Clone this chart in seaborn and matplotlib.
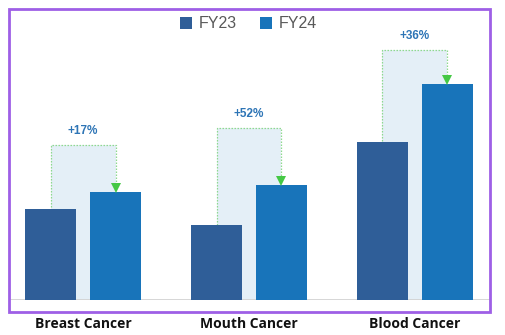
import matplotlib
matplotlib.use("Agg")
import matplotlib.pyplot as plt
import seaborn as sns
import pandas as pd
from matplotlib.patches import Rectangle, Patch

categories = ["Breast Cancer", "Mouth Cancer", "Blood Cancer"]
series = ["FY23", "FY24"]
fy23 = [91, 75, 158]
fy24 = [108, 115, 216]
growth_labels = ["+17%", "+52%", "+36%"]
box_tops = [155, 172, 250]

colors = {"FY23": "#2F5E98", "FY24": "#1874BA"}

df = pd.DataFrame({
    "category": categories * 2,
    "series": ["FY23"] * 3 + ["FY24"] * 3,
    "value": fy23 + fy24,
})

sns.set_theme(style="white")
plt.rcParams["font.family"] = ["Liberation Sans", "DejaVu Sans"]

W, H = 506, 335
fig = plt.figure(figsize=(W / 100, H / 100), dpi=100)
ax = fig.add_axes([10 / W, (H - 300) / H, 480 / W, 290 / H])

sns.barplot(data=df, x="category", y="value", hue="series", order=categories,
            hue_order=series, palette=colors, width=0.783, gap=0.215,
            saturation=1, linewidth=0, ax=ax, legend=False, zorder=3)

ax.set_ylim(0, 290)
ax.set_xlim(-0.44, 2.452)

# bar centers from the drawn bars
c23 = ax.containers[0]
c24 = ax.containers[1]
for i in range(len(categories)):
    b1 = c23.patches[i]
    b2 = c24.patches[i]
    x1 = b1.get_x() + b1.get_width() / 2
    x2 = b2.get_x() + b2.get_width() / 2
    top = box_tops[i]
    ax.add_patch(Rectangle((x1, 0), x2 - x1, top, facecolor="#E4EFF7",
                           edgecolor="none", zorder=1))
    ax.plot([x1, x1, x2, x2], [0, top, top, fy24[i] + 8], color="#8FD98F",
            lw=0.9, ls=(0, (1.2, 1.2)), zorder=2)
    ax.plot([x2], [fy24[i] + 4.5], marker="v", markersize=7.5,
            color="#45C845", markeredgewidth=0, zorder=4)
    ax.text((x1 + x2) / 2, top + 14, growth_labels[i], ha="center",
            va="center", fontsize=8.5, fontweight="bold", color="#2E75B6",
            zorder=5)

ax.axhline(0, color="#D0D0D0", lw=1.2, zorder=2)
for s in ax.spines.values():
    s.set_visible(False)
ax.set_yticks([])
ax.set_xlabel("")
ax.set_ylabel("")
ax.tick_params(axis="x", length=0, pad=12.5)
ax.set_xticks(range(len(categories)))
ax.set_xticklabels(categories, fontsize=10, fontweight="bold",
                   color="#111111", family=["Open Sans", "DejaVu Sans"])

# purple frame
fig.patches.append(Rectangle((9.5 / W, (H - 312) / H), 481 / W, 303.5 / H,
                             transform=fig.transFigure, fill=False,
                             edgecolor="#9E5FE6", lw=2, zorder=10))

handles = [Patch(facecolor=colors[s], edgecolor="none", label=s) for s in series]
fig.legend(handles=handles, loc="center", bbox_to_anchor=(0.491, 1 - 24 / H),
           ncol=2, frameon=False, fontsize=11.5, handlelength=0.75,
           handleheight=0.75, handletextpad=0.4, columnspacing=1.5,
           labelcolor="#595959")

fig.savefig("out.png", dpi=100, facecolor="white")
